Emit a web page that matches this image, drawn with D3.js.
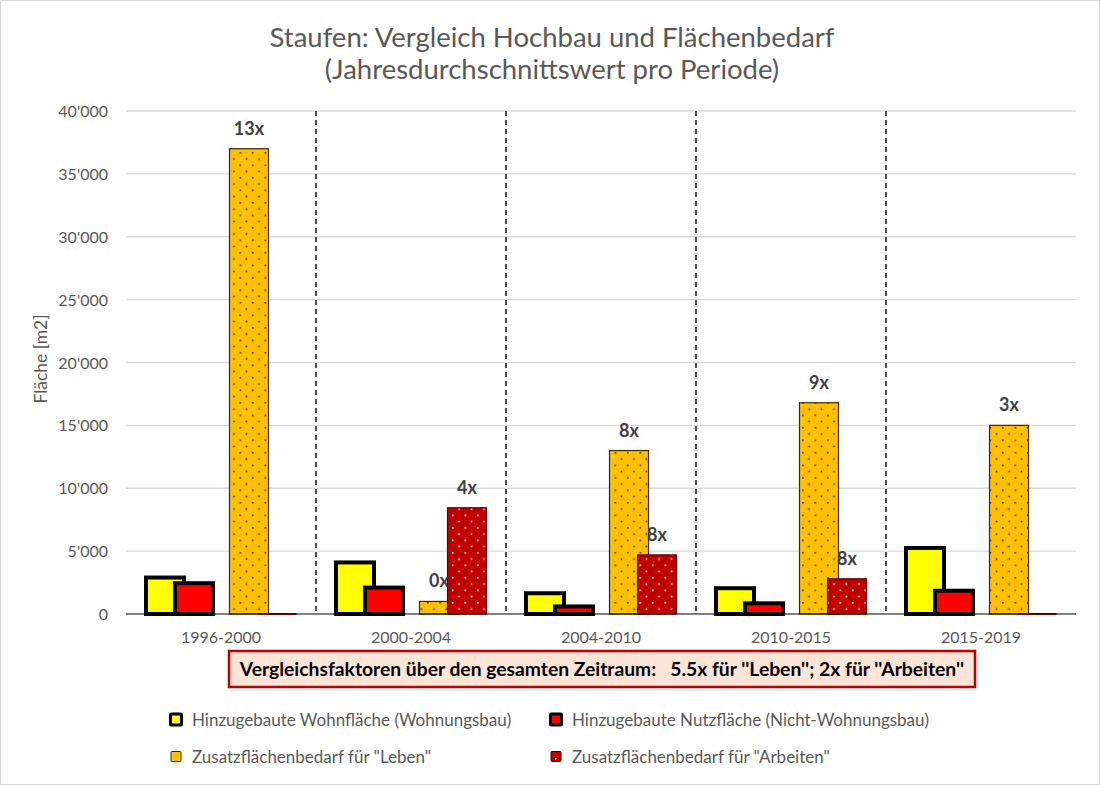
<!DOCTYPE html>
<html><head><meta charset="utf-8">
<script src="https://cdn.jsdelivr.net/npm/d3@7"></script>
<style>
body{margin:0;background:#fff;}
svg{display:block;font-family:Lato,"Open Sans",sans-serif;}
text{white-space:pre;}
</style></head>
<body>
<svg id="chart" width="1100" height="785"></svg>
<script>
// ---- data ----
const periods = ["1996-2000","2000-2004","2004-2010","2010-2015","2015-2019"];
const wohnflaeche   = [2900, 4100, 1650, 2050, 5250];   // Hinzugebaute Wohnfläche
const nutzflaeche   = [2450, 2100, 600, 850, 1850];     // Hinzugebaute Nutzfläche
const bedarfLeben   = [37000, 1000, 13000, 16800, 15000];
const bedarfArbeiten= [0, 8450, 4700, 2800, 0];
const labelsLeben   = ["13x","0x","8x","9x","3x"];
const labelsArbeiten= ["","4x","8x","8x",""];
const yTicks = [0,5000,10000,15000,20000,25000,30000,35000,40000];
const seriesNames = ["Hinzugebaute Wohnfläche (Wohnungsbau)","Hinzugebaute Nutzfläche (Nicht-Wohnungsbau)",
  "Zusatzflächenbedarf für \"Leben\"","Zusatzflächenbedarf für \"Arbeiten\""];
const titleLines = ["Staufen: Vergleich Hochbau und Flächenbedarf","(Jahresdurchschnittswert pro Periode)"];
const yTitle = "Fläche [m2]";
const noteText = "Vergleichsfaktoren über den gesamten Zeitraum:   5.5x für ''Leben''; 2x für ''Arbeiten''";

// ---- layout ----
const svg = d3.select("#chart");
const W = 1100, H = 785;
const plot = {left:126, right:1076, top:111, bottom:614};
const x = d3.scaleBand().domain(periods).range([plot.left, plot.right]).paddingInner(0).paddingOuter(0);
const y = d3.scaleLinear().domain([0,40000]).range([plot.bottom, plot.top]);
const fmt = v => v===0 ? "0" : d3.format(",")(v).replace(/,/g,"'");

const defs = svg.append("defs");
const p1 = defs.append("pattern").attr("id","dotsDark").attr("patternUnits","userSpaceOnUse")
  .attr("width",12.5).attr("height",12.5);
p1.append("rect").attr("width",12.5).attr("height",12.5).attr("fill","#FFC000");
p1.append("rect").attr("x",2).attr("y",2).attr("width",1.6).attr("height",1.6).attr("fill","#3a2a00");
p1.append("rect").attr("x",8.25).attr("y",8.25).attr("width",1.6).attr("height",1.6).attr("fill","#3a2a00");
const p2 = defs.append("pattern").attr("id","dotsLight").attr("patternUnits","userSpaceOnUse")
  .attr("width",12.5).attr("height",12.5);
p2.append("rect").attr("width",12.5).attr("height",12.5).attr("fill","#C00000");
p2.append("rect").attr("x",2).attr("y",2).attr("width",1.6).attr("height",1.6).attr("fill","#ffffff");
p2.append("rect").attr("x",8.25).attr("y",8.25).attr("width",1.6).attr("height",1.6).attr("fill","#ffffff");

svg.append("rect").attr("x",0.5).attr("y",0.5).attr("width",W-1).attr("height",H-1)
  .attr("fill","#fff").attr("stroke","#d9d9d9");

// title
svg.append("g").selectAll("text").data(titleLines).join("text")
  .attr("x",552).attr("y",(d,i)=>47+i*32).attr("text-anchor","middle")
  .attr("font-size",27.5).attr("fill","#595959").text(d=>d);

// gridlines
svg.append("g").selectAll("line").data(yTicks.filter(t=>t>0)).join("line")
  .attr("x1",plot.left).attr("x2",plot.right).attr("y1",d=>y(d)).attr("y2",d=>y(d))
  .attr("stroke","#d9d9d9").attr("stroke-width",1.3);

// y axis labels
svg.append("g").selectAll("text").data(yTicks).join("text")
  .attr("x",108).attr("y",d=>y(d)+6).attr("text-anchor","end")
  .attr("font-size",16).attr("fill","#595959").text(fmt);
svg.append("text").attr("transform","translate(47,359) rotate(-90)").attr("text-anchor","middle")
  .attr("font-size",17.5).attr("fill","#595959").text(yTitle);

// dashed separators
svg.append("g").selectAll("line").data(periods.slice(1)).join("line")
  .attr("x1",d=>x(d)).attr("x2",d=>x(d)).attr("y1",plot.top).attr("y2",plot.bottom)
  .attr("stroke","#222").attr("stroke-width",1.6).attr("stroke-dasharray","5,4");

// bars
const bw = x.bandwidth();
const c = d => x(d) + bw/2;
const series = [
  {vals:wohnflaeche, off:-75, w:38, fill:"#FFFF00", stroke:"#000", sw:4},
  {vals:nutzflaeche, off:-46, w:38, fill:"#FF0000", stroke:"#000", sw:4},
  {vals:bedarfLeben, off:8.5, w:39, fill:"url(#dotsDark)", stroke:"#3a2a00", sw:1.2},
  {vals:bedarfArbeiten, off:36.5, w:39, fill:"url(#dotsLight)", stroke:"#5a0000", sw:1.2}
];
series.forEach(s=>{
  const g = svg.append("g");
  const data = periods.map((p,i)=>({p, v:s.vals[i]}));
  g.selectAll("rect").data(data.filter(d=>d.v>0)).join("rect")
    .attr("x",d=>c(d.p)+s.off).attr("width",s.w)
    .attr("y",d=>y(d.v)).attr("height",d=>y(0)-y(d.v))
    .attr("fill",s.fill).attr("stroke",s.stroke).attr("stroke-width",s.sw);
  g.selectAll("line").data(data.filter(d=>d.v===0)).join("line")
    .attr("x1",d=>c(d.p)+s.off).attr("x2",d=>c(d.p)+s.off+s.w)
    .attr("y1",y(0)).attr("y2",y(0)).attr("stroke","#C00000").attr("stroke-width",2);
});

// baseline
svg.append("line").attr("x1",plot.left).attr("x2",plot.right).attr("y1",y(0)).attr("y2",y(0))
  .attr("stroke","#000").attr("stroke-width",1.2);

// data labels
const lbl = (vals, labels, off, w) => svg.append("g").selectAll("text")
  .data(periods.map((p,i)=>({p,v:vals[i],t:labels[i]})).filter(d=>d.t)).join("text")
  .attr("x",d=>c(d.p)+off+w/2).attr("y",d=>y(d.v)-14).attr("text-anchor","middle")
  .attr("font-size",18).attr("font-weight","bold").attr("fill","#404040").text(d=>d.t);
lbl(bedarfLeben, labelsLeben, 8.5, 39);
lbl(bedarfArbeiten, labelsArbeiten, 36.5, 39);

// x labels
svg.append("g").selectAll("text").data(periods).join("text")
  .attr("x",d=>c(d)).attr("y",643).attr("text-anchor","middle")
  .attr("font-size",16).attr("fill","#595959").text(d=>d);

// note box
svg.append("rect").attr("x",229).attr("y",651).attr("width",746).attr("height",36)
  .attr("fill","#FBE5D6").attr("stroke","#C00000").attr("stroke-width",2.5);
svg.append("text").attr("x",602).attr("y",676).attr("text-anchor","middle")
  .attr("font-size",19.3).attr("font-weight","bold").attr("fill","#000").text(noteText);

// legend
const legPos = [[176,720],[556,720],[176,757],[556,757]];
const legStyle = [
  {fill:"#FFFF00", stroke:"#000", sw:3, s:12},
  {fill:"#FF0000", stroke:"#000", sw:3, s:12},
  {fill:"#FFC000", stroke:"#3a2a00", sw:1, s:11},
  {fill:"#C00000", stroke:"#3a0000", sw:1, s:11}
];
const lg = svg.append("g").selectAll("g").data(seriesNames).join("g")
  .attr("transform",(d,i)=>`translate(${legPos[i][0]},${legPos[i][1]})`);
lg.append("rect").attr("x",(d,i)=>-legStyle[i].s/2+0.5).attr("y",(d,i)=>-legStyle[i].s/2)
  .attr("width",(d,i)=>legStyle[i].s-1).attr("height",(d,i)=>legStyle[i].s-1)
  .attr("fill",(d,i)=>legStyle[i].fill).attr("stroke",(d,i)=>legStyle[i].stroke)
  .attr("stroke-width",(d,i)=>legStyle[i].sw).attr("rx",1);
lg.filter((d,i)=>i===3).append("rect").attr("x",-1).attr("y",1).attr("width",1.5).attr("height",1.5).attr("fill","#fff");
lg.append("text").attr("x",16).attr("y",6).attr("font-size",17).attr("fill","#595959").text(d=>d);
</script>
</body></html>
